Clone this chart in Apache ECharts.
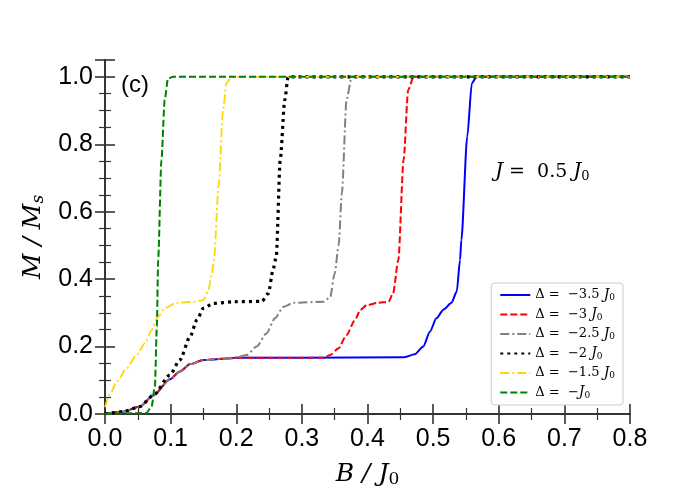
<!DOCTYPE html>
<html>
<head>
<meta charset="utf-8">
<script src="https://cdn.jsdelivr.net/npm/echarts@6/dist/echarts.min.js"></script>
<style>
  html, body { margin: 0; padding: 0; background: #fff; }
  #chart { width: 700px; height: 500px; }
</style>
</head>
<body>
<div id="chart"></div>
<script>
// Δ values (in units of J0) shown in the legend
var deltaLabels = ['\u22123.5', '\u22123', '\u22122.5', '\u22122', '\u22121.5', '\u2212'];
var colors = ['#0000ff', '#ff0000', '#808080', '#000000', '#ffd700', '#008000'];

// magnetization curves M/Ms vs B/J0
var bBlue = [0, 0.028, 0.053, 0.074, 0.099, 0.114, 0.130, 0.150, 0.180, 0.2, 0.3, 0.455, 0.472, 0.485, 0.495, 0.505, 0.516, 0.528, 0.536, 0.541, 0.543, 0.552, 0.559, 0.566, 0.8];
var mBlue = [0, 0.007, 0.022, 0.056, 0.103, 0.126, 0.148, 0.160, 0.164, 0.1667, 0.1667, 0.168, 0.177, 0.2, 0.244, 0.284, 0.31, 0.33, 0.363, 0.457, 0.516, 0.823, 0.981, 1.0, 1.0];

var bRed = [0, 0.028, 0.053, 0.074, 0.099, 0.114, 0.130, 0.150, 0.180, 0.2, 0.333, 0.343, 0.356, 0.368, 0.381, 0.389, 0.399, 0.417, 0.432, 0.439, 0.447, 0.455, 0.462, 0.470, 0.8];
var mRed = [0, 0.007, 0.022, 0.056, 0.103, 0.126, 0.148, 0.160, 0.164, 0.1667, 0.1667, 0.175, 0.195, 0.234, 0.279, 0.309, 0.323, 0.330, 0.333, 0.358, 0.457, 0.754, 0.961, 1.0, 1.0];

var bGray = [0, 0.028, 0.053, 0.074, 0.099, 0.114, 0.130, 0.150, 0.180, 0.2, 0.216, 0.231, 0.246, 0.259, 0.272, 0.287, 0.333, 0.343, 0.35, 0.356, 0.361, 0.368, 0.376, 0.8];
var mGray = [0, 0.007, 0.022, 0.056, 0.103, 0.126, 0.148, 0.160, 0.164, 0.168, 0.175, 0.2, 0.239, 0.284, 0.318, 0.330, 0.333, 0.346, 0.417, 0.5, 0.655, 0.932, 1.0, 1.0];

var bBlack = [0, 0.028, 0.053, 0.074, 0.099, 0.114, 0.130, 0.140, 0.150, 0.165, 0.196, 0.239, 0.249, 0.256, 0.261, 0.267, 0.274, 0.279, 0.8];
var mBlack = [0, 0.007, 0.022, 0.056, 0.116, 0.16, 0.231, 0.279, 0.314, 0.328, 0.333, 0.334, 0.358, 0.427, 0.467, 0.754, 0.932, 1.0, 1.0];

var bGold = [0, 0.008, 0.018, 0.033, 0.048, 0.061, 0.071, 0.081, 0.091, 0.109, 0.135, 0.150, 0.157, 0.163, 0.166, 0.173, 0.180, 0.185, 0.193, 0.8];
var mGold = [0.02, 0.061, 0.096, 0.136, 0.175, 0.21, 0.249, 0.289, 0.314, 0.330, 0.333, 0.338, 0.363, 0.417, 0.457, 0.674, 0.902, 0.981, 1.0, 1.0];

var bGreen = [0, 0.063, 0.071, 0.076, 0.079, 0.081, 0.086, 0.091, 0.096, 0.104, 0.8];
var mGreen = [0, 0.003, 0.022, 0.081, 0.259, 0.457, 0.754, 0.932, 0.995, 1.0, 1.0];

var xTicks = [0, 0.1, 0.2, 0.3, 0.4, 0.5, 0.6, 0.7, 0.8];
var yTicks = [0, 0.2, 0.4, 0.6, 0.8, 1.0];

function pairs(b, m) {
    return b.map(function (v, i) { return [v, m[i]]; });
}

var curves = [
    pairs(bBlue, mBlue),
    pairs(bRed, mRed),
    pairs(bGray, mGray),
    pairs(bBlack, mBlack),
    pairs(bGold, mGold),
    pairs(bGreen, mGreen)
];
var dashes = ['solid', [7, 3], [9, 3, 2, 3], [3, 4], [9, 3, 2, 3], [7, 3]];
var widths = [2, 2, 2, 3.2, 1.8, 2];

var names = deltaLabels.map(function (d) { return 'D' + d; });

var chartDom = document.getElementById('chart');
var myChart = echarts.init(chartDom);

var axisColor = '#333';
var frame = { show: true, lineStyle: { color: axisColor, width: 1.8 } };
var sans = 'Liberation Sans';
var serif = 'DejaVu Serif';

function baseX(pos, showLabel) {
    return {
        type: 'value', position: pos, min: 0, max: 0.8, interval: 0.1,
        axisLine: frame,
        axisTick: { show: true, inside: true, length: 10, lineStyle: { color: axisColor, width: 1.6 } },
        minorTick: { show: true, splitNumber: 2, length: 6, lineStyle: { color: axisColor, width: 1.2 } },
        splitLine: { show: false },
        axisLabel: {
            show: showLabel, color: '#000', fontSize: 25, fontFamily: sans, margin: 13,
            formatter: function (v) {
                var hit = xTicks.some(function (t) { return Math.abs(t - v) < 1e-6; });
                return hit ? v.toFixed(1) : '';
            }
        }
    };
}
function baseY(pos, showLabel) {
    return {
        type: 'value', position: pos, min: 0, max: 1.05, interval: 0.2,
        axisLine: frame,
        axisTick: { show: true, inside: true, length: 10, lineStyle: { color: axisColor, width: 1.6 } },
        minorTick: { show: true, splitNumber: 4, length: 6, lineStyle: { color: axisColor, width: 1.2 } },
        splitLine: { show: false },
        axisLabel: {
            show: showLabel, color: '#000', fontSize: 25, fontFamily: sans, margin: 12,
            showMaxLabel: false,
            formatter: function (v) {
                var hit = yTicks.some(function (t) { return Math.abs(t - v) < 1e-6; });
                return hit ? v.toFixed(1) : '';
            }
        }
    };
}

var xMain = baseX('bottom', true);
xMain.name = 'B / J{s|0}';
xMain.nameLocation = 'middle';
xMain.nameGap = 46;
xMain.nameTextStyle = {
    color: '#000', fontSize: 25, fontFamily: serif, fontStyle: 'italic',
    rich: { s: { fontSize: 17, fontFamily: serif, fontStyle: 'normal', verticalAlign: 'bottom', padding: [11, 0, 0, 0] } }
};
var yMain = baseY('left', true);
yMain.name = 'M / M{s|s}';
yMain.nameLocation = 'middle';
yMain.nameGap = 52;
yMain.nameTextStyle = {
    color: '#000', fontSize: 25, fontFamily: serif, fontStyle: 'italic',
    rich: { s: { fontSize: 17, fontFamily: serif, fontStyle: 'italic', verticalAlign: 'bottom', padding: [11, 0, 0, 0] } }
};

var option = {
    animation: false,
    backgroundColor: '#fff',
    grid: { left: 105, right: 70, top: 60, bottom: 86, containLabel: false },
    xAxis: [xMain, baseX('top', false)],
    yAxis: [yMain, baseY('right', false)],
    legend: {
        data: names,
        orient: 'vertical',
        right: 77,
        top: 283,
        itemWidth: 30,
        itemHeight: 14,
        itemGap: 5,
        padding: [5, 8, 5, 8],
        backgroundColor: '#fff',
        borderColor: '#cccccc',
        borderWidth: 1,
        borderRadius: 3,
        itemStyle: { color: 'rgba(0,0,0,0)', borderWidth: 0, opacity: 0 },
        textStyle: {
            fontFamily: serif, fontSize: 13, color: '#000',
            rich: {
                j: { fontFamily: serif, fontStyle: 'italic', fontSize: 14 },
                s: { fontFamily: serif, fontSize: 9, verticalAlign: 'bottom', padding: [6, 0, 0, 0] }
            }
        },
        formatter: function (name) {
            var d = name.slice(1);
            var num = d === '\u2212' ? '\u2212' : d + ' ';
            return '\u0394 =  ' + num + '{j|J}{s|0}';
        }
    },
    graphic: [
        {
            type: 'text', left: 121, top: 73,
            style: { text: '(c)', font: '24px "Liberation Sans"', fill: '#000' }
        },
        {
            type: 'text', left: 495, top: 162,
            style: {
                text: '{j|J} =  0.5 {j|J}{s|0}',
                font: '19px "DejaVu Serif"', fill: '#000',
                rich: {
                    j: { fontFamily: serif, fontStyle: 'italic', fontSize: 20 },
                    s: { fontFamily: serif, fontSize: 13, verticalAlign: 'bottom', padding: [9, 0, 0, 0] }
                }
            }
        }
    ],
    series: curves.map(function (c, i) {
        return {
            name: names[i],
            type: 'line',
            data: c,
            showSymbol: false,
            symbol: 'none',
            smooth: 0.25,
            smoothMonotone: 'x',
            color: colors[i],
            lineStyle: { color: colors[i], width: widths[i], type: dashes[i] },
            z: 2 + i
        };
    })
};

option && myChart.setOption(option);
</script>
</body>
</html>
